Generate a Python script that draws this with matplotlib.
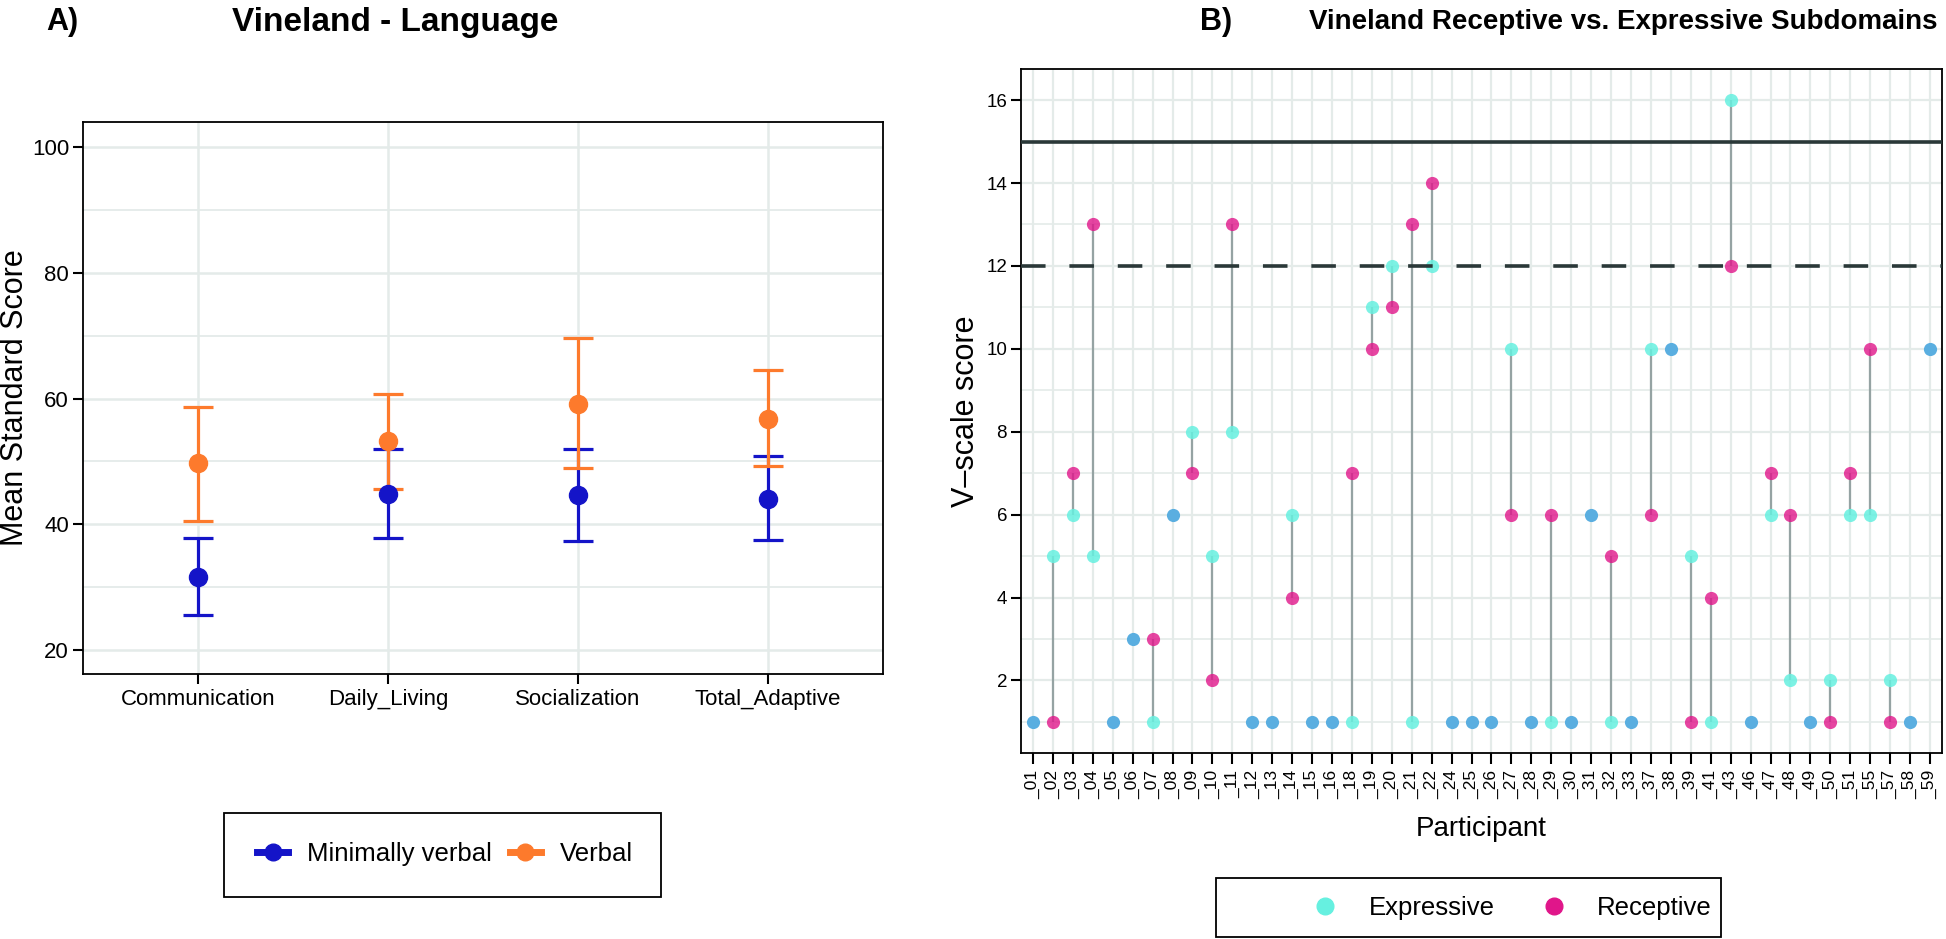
import numpy as np
import matplotlib
matplotlib.use("Agg")
import matplotlib.pyplot as plt
from matplotlib.lines import Line2D
from matplotlib.patches import Rectangle

plt.rcParams['font.family'] = ['Liberation Sans', 'DejaVu Sans']

# Panel A: Vineland means with error bars
domains = ["Communication", "Daily_Living", "Socialization", "Total_Adaptive"]
mv_mean = [31.7, 44.8, 44.6, 44.1]
mv_low = [25.6, 37.9, 37.4, 37.5]
mv_high = [37.8, 52.0, 52.0, 50.8]
vb_mean = [49.7, 53.3, 59.2, 56.8]
vb_low = [40.6, 45.7, 48.9, 49.3]
vb_high = [58.7, 60.8, 69.6, 64.5]

# Panel B: receptive vs expressive v-scale scores
participants = ["_01", "_02", "_03", "_04", "_05", "_06", "_07", "_08", "_09", "_10",
                "_11", "_12", "_13", "_14", "_15", "_16", "_18", "_19", "_20", "_21",
                "_22", "_24", "_25", "_26", "_27", "_28", "_29", "_30", "_31", "_32",
                "_33", "_37", "_38", "_39", "_41", "_43", "_46", "_47", "_48", "_49",
                "_50", "_51", "_55", "_57", "_58", "_59"]
expressive = [1, 5, 6, 5, 1, 3, 1, 6, 8, 5,
              8, 1, 1, 6, 1, 1, 1, 11, 12, 1,
              12, 1, 1, 1, 10, 1, 1, 1, 6, 1,
              1, 10, 10, 5, 1, 16, 1, 6, 2, 1,
              2, 6, 6, 2, 1, 10]
receptive = [1, 1, 7, 13, 1, 3, 3, 6, 7, 2,
             13, 1, 1, 4, 1, 1, 7, 10, 11, 13,
             14, 1, 1, 1, 6, 1, 6, 1, 6, 5,
             1, 6, 10, 1, 4, 12, 1, 7, 6, 1,
             1, 7, 10, 1, 1, 10]

c_mv = "#1414C8"
c_vb = "#FD7A2C"
c_exp = "#66F0E0"
c_rec = "#E0168A"
c_same = "#5AAEE0"
c_grid = "#E4EBE9"
c_hline = "#2A3838"

fig = plt.figure(figsize=(19.46, 9.39), dpi=100)

# ---- Panel A ----
ax1 = fig.add_axes([83 / 1946, 1 - 674 / 939, 800 / 1946, 552 / 939])
xa = np.arange(len(domains))
mv_err = [np.array(mv_mean) - np.array(mv_low), np.array(mv_high) - np.array(mv_mean)]
vb_err = [np.array(vb_mean) - np.array(vb_low), np.array(vb_high) - np.array(vb_mean)]
ax1.errorbar(xa, mv_mean, yerr=mv_err, fmt='none', ecolor=c_mv, elinewidth=2.3,
             capsize=10.5, capthick=2.3, zorder=3)
ax1.errorbar(xa, vb_mean, yerr=vb_err, fmt='none', ecolor=c_vb, elinewidth=2.3,
             capsize=10.5, capthick=2.3, zorder=3)
ax1.plot(xa, mv_mean, 'o', color=c_mv, markersize=13, zorder=4)
ax1.plot(xa, vb_mean, 'o', color=c_vb, markersize=13, zorder=4)

ax1.set_xlim(-0.605, 3.605)
ax1.set_ylim(16.2, 104)
ax1.set_xticks(xa)
ax1.set_xticklabels(domains, fontsize=16)
ax1.set_yticks([20, 40, 60, 80, 100])
ax1.set_yticks([30, 50, 70, 90], minor=True)
ax1.tick_params(axis='y', labelsize=16, length=7, width=1.5, pad=3)
ax1.tick_params(axis='x', length=7, width=1.5, pad=4)
ax1.tick_params(which='minor', length=0)
ax1.grid(True, which='major', color=c_grid, lw=1.8, zorder=0)
ax1.grid(True, which='minor', axis='y', color=c_grid, lw=1.3, zorder=0)
ax1.set_axisbelow(True)
for s in ax1.spines.values():
    s.set_linewidth(1.3)
    s.set_color('black')
ax1.set_ylabel("Mean Standard Score", fontsize=22)
ax1.yaxis.set_label_coords(-0.066, 0.5)

fig.text(46 / 1946, 1 - 22 / 939, "A)", fontsize=22, fontweight='bold', va='center')
fig.text(232 / 1946, 1 - 22 / 939, "Vineland - Language", fontsize=24,
         fontweight='bold', va='center')

# legend A
fig.patches.append(Rectangle((224 / 1946, 1 - 897 / 939), 437 / 1946, 84 / 939,
                             transform=fig.transFigure, fill=False,
                             edgecolor='black', lw=1.3))
hA = [Line2D([0], [0], color=c_mv, lw=5, marker='o', markersize=12),
      Line2D([0], [0], color=c_vb, lw=5, marker='o', markersize=12)]
fig.legend(hA, ["Minimally verbal", "Verbal"], loc='center', ncol=2,
           bbox_to_anchor=(445 / 1946, 1 - 854 / 939), frameon=False,
           fontsize=18.5, handlelength=1.2, handletextpad=0.74, columnspacing=0.7)

# ---- Panel B ----
ax2 = fig.add_axes([1021 / 1946, 1 - 753 / 939, 921 / 1946, 684 / 939])
xb = np.arange(len(participants))
exp = np.array(expressive)
rec = np.array(receptive)
diff = exp != rec
ax2.vlines(xb[diff], np.minimum(exp, rec)[diff], np.maximum(exp, rec)[diff],
           color="#95A3A3", lw=1.6, zorder=2)
ax2.scatter(xb[diff], exp[diff], s=90, color=c_exp, alpha=0.85, lw=0, zorder=3)
ax2.scatter(xb[diff], rec[diff], s=90, color=c_rec, alpha=0.8, lw=0, zorder=3)
ax2.scatter(xb[~diff], exp[~diff], s=90, color=c_same, lw=0, zorder=3)
ax2.axhline(15, color=c_hline, lw=2.6, zorder=4)
ax2.axhline(12, color=c_hline, lw=2.6, dashes=(6.8, 6.6), zorder=4)

ax2.set_xlim(-0.6, len(participants) - 0.4)
ax2.set_ylim(0.25, 16.75)
ax2.set_xticks(xb)
ax2.set_xticklabels(participants, rotation=90, fontsize=12.5)
ax2.set_yticks([2, 4, 6, 8, 10, 12, 14, 16])
ax2.set_yticks([1, 3, 5, 7, 9, 11, 13, 15], minor=True)
ax2.tick_params(axis='y', labelsize=13.5, length=7, width=1.5, pad=3)
ax2.tick_params(axis='x', length=8, width=1.5, pad=4)
ax2.tick_params(which='minor', length=0)
ax2.grid(True, which='major', color=c_grid, lw=1.6, zorder=0)
ax2.grid(True, which='minor', axis='y', color=c_grid, lw=1.2, zorder=0)
ax2.set_axisbelow(True)
for s in ax2.spines.values():
    s.set_linewidth(1.3)
    s.set_color('black')
ax2.set_ylabel("V\u2013scale score", fontsize=22, labelpad=4)
ax2.set_xlabel("Participant", fontsize=20, labelpad=12)

fig.text(1200 / 1946, 1 - 22 / 939, "B)", fontsize=22, fontweight='bold', va='center')
fig.text(1309 / 1946, 1 - 22 / 939, "Vineland Receptive vs. Expressive Subdomains",
         fontsize=20, fontweight='bold', va='center')

# legend B
fig.patches.append(Rectangle((1216 / 1946, 1 - 937 / 939), 505 / 1946, 59 / 939,
                             transform=fig.transFigure, fill=False,
                             edgecolor='black', lw=1.3))
hB = [Line2D([0], [0], color=c_exp, lw=0, marker='o', markersize=12),
      Line2D([0], [0], color=c_rec, lw=0, marker='o', markersize=12)]
fig.legend(hB, ["Expressive", "Receptive"], loc='center', ncol=2,
           bbox_to_anchor=(1512 / 1946, 1 - 908 / 939), frameon=False,
           fontsize=18.5, handlelength=1.0, handletextpad=1.2, columnspacing=1.8)

fig.savefig("out.png", dpi=100)
